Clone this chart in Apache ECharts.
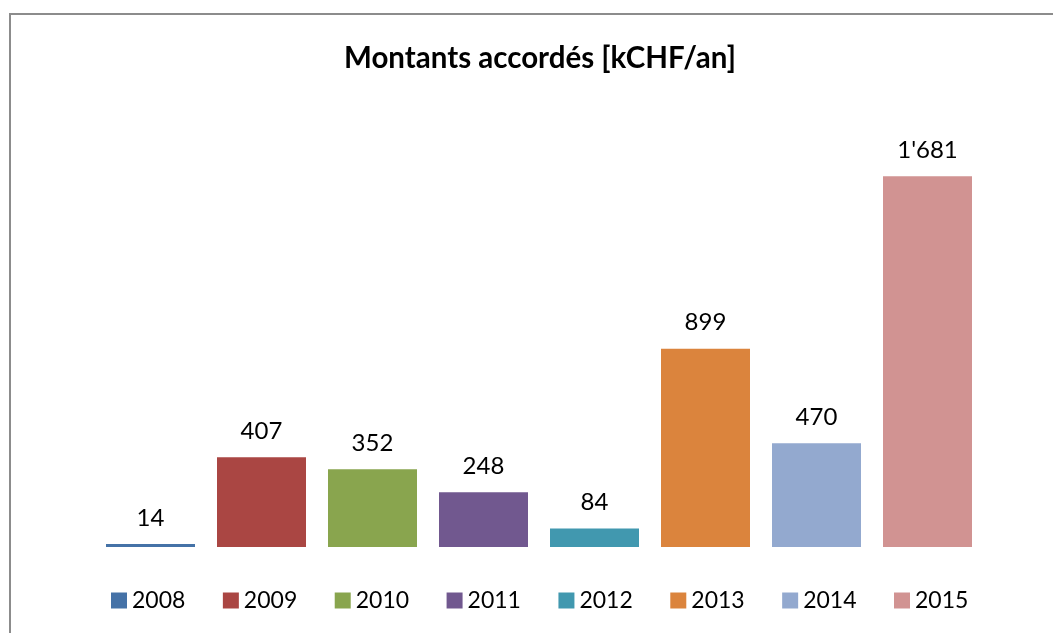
<!DOCTYPE html>
<html>
<head>
<meta charset="utf-8">
<script src="https://cdn.jsdelivr.net/npm/echarts@6/dist/echarts.min.js"></script>
<style>
  html, body { margin: 0; padding: 0; background: #fff; }
  #frame { position: absolute; left: 9px; top: 13px; width: 1100px; height: 700px;
           border-left: 2px solid #8c8c8c; border-top: 2px solid #8c8c8c; }
  #chart { position: absolute; left: 0; top: 0; width: 1053px; height: 633px; }
</style>
</head>
<body>
<div id="frame"></div>
<div id="chart"></div>
<script>
const YEARS = ["2008", "2009", "2010", "2011", "2012", "2013", "2014", "2015"];
const AMOUNTS = [14, 407, 352, 248, 84, 899, 470, 1681];
const COLORS = ["#4572a7", "#aa4643", "#89a54e", "#71588f", "#4198af", "#db843d", "#93a9cf", "#d19392"];

const FONT = "Lato, 'Open Sans', sans-serif";

function fmt(v) {
  return String(v).replace(/\B(?=(\d{3})+(?!\d))/g, "'");
}

const series = YEARS.map((year, i) => ({
  name: year,
  type: "bar",
  barWidth: 89,
  barGap: "-100%",
  data: YEARS.map((_, j) => (j === i ? AMOUNTS[i] : "-")),
  itemStyle: { color: COLORS[i] },
  label: {
    show: true,
    position: "top",
    distance: 14,
    color: "#000",
    fontFamily: FONT,
    fontSize: 24,
    formatter: (p) => fmt(p.value),
  },
  animation: false,
}));

const chart = echarts.init(document.getElementById("chart"), null, { renderer: "canvas" });
chart.setOption({
  backgroundColor: "transparent",
  animation: false,
  title: {
    text: "Montants accordés [kCHF/an]",
    left: 339,
    top: 38,
    textStyle: { fontFamily: FONT, fontWeight: "bold", fontSize: 29.5, color: "#000" },
  },
  legend: {
    top: 584,
    left: 106,
    itemWidth: 16,
    itemHeight: 16,
    itemGap: 37.5,
    icon: "rect",
    textStyle: { fontFamily: FONT, fontSize: 23, color: "#000" },
    data: YEARS,
  },
  grid: { left: 95, right: 70, top: 150, bottom: 86 },
  xAxis: {
    type: "category",
    data: YEARS,
    axisLine: { show: false },
    axisTick: { show: false },
    axisLabel: { show: false },
  },
  yAxis: {
    type: "value",
    min: 0,
    max: 1800,
    show: false,
    splitLine: { show: false },
  },
  series,
});
</script>
</body>
</html>
